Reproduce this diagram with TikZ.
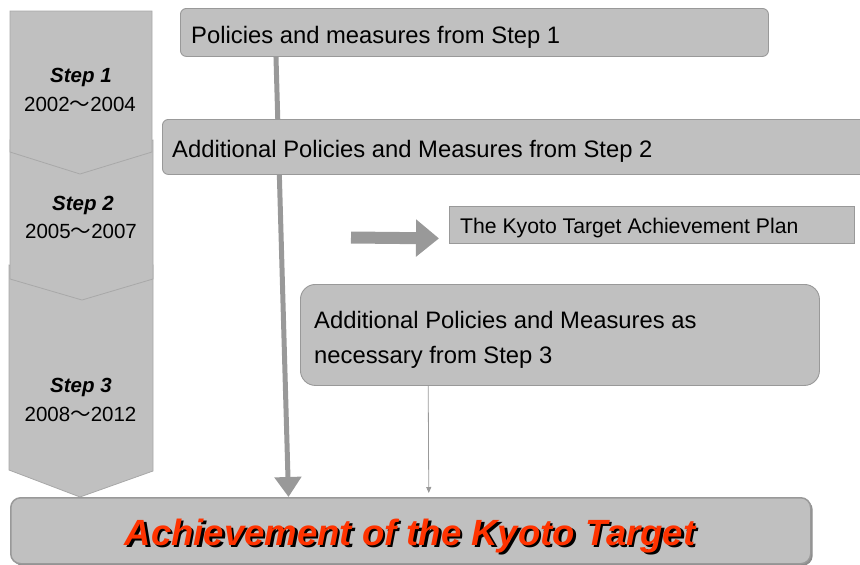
\documentclass[tikz,border=0pt]{standalone}
\usepackage{fontspec}
\setmainfont{Liberation Sans}
\newfontfamily\cjkfont{Noto Sans CJK JP}
\usetikzlibrary{arrows.meta,backgrounds,calc}
\definecolor{boxfill}{HTML}{C0C0C0}
\definecolor{boxline}{HTML}{999999}
\definecolor{arrowgray}{HTML}{999999}
\definecolor{goalred}{HTML}{FF3300}
\definecolor{chevline}{HTML}{A8A8A8}
\definecolor{goalshade}{HTML}{8C8C8C}
\newcommand{\wavedash}{{\cjkfont ～}}
\newcommand{\shadowtext}[1]{\makebox[0pt][l]{\kern2.5pt\raisebox{-2.5pt}{\color{black}#1}}{\color{goalred}#1}}
\begin{document}
\begin{tikzpicture}[x=1pt,y=-1pt,
  chev/.style={fill=boxfill, draw=chevline, line width=0.8pt, line join=miter},
  steplbl/.style={anchor=base, inner sep=0pt, font=\fontsize{20.5}{24}\selectfont\bfseries\itshape},
  yearlbl/.style={anchor=base, inner sep=0pt, font=\fontsize{20.5}{24}\selectfont},
  pbox/.style={fill=boxfill, draw=boxline, line width=0.9pt, rounded corners=6pt, anchor=north west, inner sep=0pt},
  sqbox/.style={fill=boxfill, draw=boxline, line width=0.9pt, anchor=north west, inner sep=0pt},
  btext/.style={anchor=base west, inner sep=0pt, font=\fontsize{23.8}{28}\selectfont},
  ktext/.style={anchor=base west, inner sep=0pt, font=\fontsize{21.2}{25}\selectfont},
  goaltext/.style={anchor=base, inner sep=0pt, font=\fontsize{36.5}{40}\selectfont\bfseries\itshape},
  mainarrow/.style={draw=arrowgray, line width=5pt, -{Triangle[width=26pt,length=20pt]}},
  thinarrow/.style={draw=arrowgray, line width=0.8pt, -{Triangle[width=5pt,length=6pt]}},
  blockarrow/.style={draw=arrowgray, line width=12pt, -{Triangle[width=36pt,length=23pt]}}
]
\useasboundingbox (0,0) rectangle (860,565);

% chevrons (stages)
\path[chev] (9,265) -- (82,286) -- (153,265) -- (153,471) -- (80,497) -- (9,470) -- cycle;
\path[chev] (10,140) -- (80,161) -- (153,140) -- (153,279) -- (82,300) -- (10,279) -- cycle;
\path[chev] (10,11) -- (152,11) -- (152,152) -- (80,174) -- (10,152) -- cycle;

\node[steplbl] (s1) at (81,82) {Step 1};
\node[yearlbl] (y1) at (80,111) {2002\wavedash 2004};
\node[steplbl] (s2) at (83,210) {Step 2};
\node[yearlbl] (y2) at (81,238) {2005\wavedash 2007};
\node[steplbl] (s3) at (81,392) {Step 3};
\node[yearlbl] (y3) at (80.5,421) {2008\wavedash 2012};

% boxes
\node[pbox, minimum width=588pt, minimum height=48pt] (p1) at (180,8) {};
\node[btext] (t1) at (191,43) {Policies and measures from Step 1};

\node[pbox, minimum width=720pt, minimum height=55pt] (p2) at (162,119) {};
\node[btext] (t2) at (172,157) {Additional Policies and Measures from Step 2};

\node[sqbox, minimum width=405pt, minimum height=37pt] (kyoto) at (449,206) {};
\node[ktext] (tk) at (460,233) {The Kyoto Target Achievement Plan};

\node[pbox, rounded corners=15pt, minimum width=519pt, minimum height=101pt] (p3) at (300,284) {};
\node[btext] (t3a) at (314,328) {Additional Policies and Measures as};
\node[btext] (t3b) at (314,363) {necessary from Step 3};

% goal box
\node[anchor=north west, inner sep=0pt, fill=goalshade, rounded corners=10pt, minimum width=800pt, minimum height=66pt] (goalsh) at (12.5,499.5) {};
\node[pbox, draw=boxline, line width=1.5pt, rounded corners=10pt, minimum width=800pt, minimum height=66pt] (goal) at (10,497) {};
\node[goaltext] (gt) at (410,545) {\shadowtext{Achievement of the Kyoto Target}};

% connectors
\begin{pgfonlayer}{background}
\draw[mainarrow] ($(p1.south west)!0.163!(p1.south east)$) -- ($(goal.north west)!0.3475!(goal.north east)$);
\end{pgfonlayer}
\draw[thinarrow, shorten >=4pt] ($(p3.south west)!0.2466!(p3.south east)$) -- ($(goal.north west)!0.5225!(goal.north east)$);

\coordinate (bas) at (351,237.5);
\coordinate (bat) at ($(kyoto.south west)+(-10,-5.5)$);
\draw[blockarrow] (bas) -- (bat);
\end{tikzpicture}
\end{document}
